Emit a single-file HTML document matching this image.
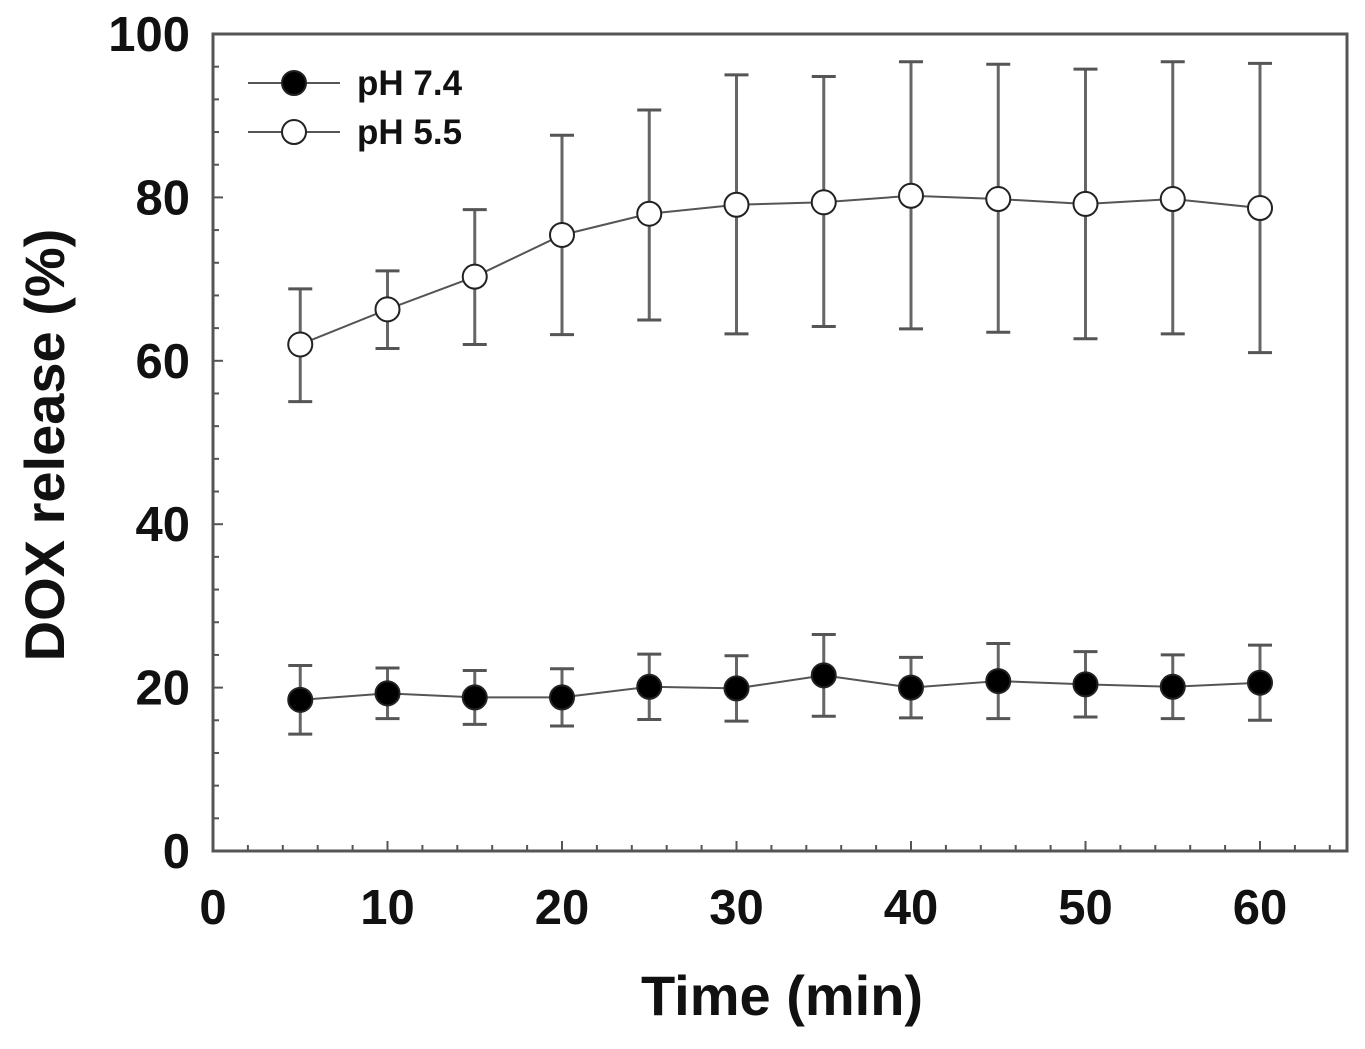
<!DOCTYPE html>
<html><head><meta charset="utf-8"><style>
html,body{margin:0;padding:0;background:#fff;}
svg{display:block;font-family:"Liberation Sans",Arial,sans-serif;}
</style></head><body>
<svg id="chart" width="1365" height="1049" viewBox="0 0 1365 1049"></svg>
<script>
const times=[5,10,15,20,25,30,35,40,45,50,55,60];
const ph74=[18.5,19.3,18.8,18.8,20.1,19.9,21.5,20.0,20.8,20.4,20.1,20.6];
const ph74Err=[4.2,3.1,3.3,3.5,4.0,4.0,5.0,3.7,4.6,4.0,3.9,4.6];
const ph55=[62.0,66.3,70.3,75.4,78.0,79.1,79.4,80.2,79.8,79.2,79.8,78.7];
const ph55Low=[55.0,61.5,62.0,63.2,65.0,63.3,64.2,63.9,63.5,62.7,63.3,61.0];
const ph55High=[68.8,71.0,78.5,87.6,90.7,95.0,94.8,96.6,96.3,95.7,96.6,96.4];
const xTicks=[0,10,20,30,40,50,60];
const yTicks=[0,20,40,60,80,100];
const NS='http://www.w3.org/2000/svg';
const svg=document.getElementById('chart');
const L=213,R=1347,T=34,B=851;
const x=v=>L+v*(1260-213)/60;
const y=v=>B-v*(B-T)/100;
function mk(tag,attrs,parent){const e=document.createElementNS(NS,tag);for(const k in attrs)e.setAttribute(k,attrs[k]);(parent||svg).appendChild(e);return e;}
const axis=mk('g',{});


mk('rect',{x:L,y:T,width:R-L,height:B-T,fill:'none',stroke:'#555','stroke-width':3},axis);
for(let v=0;v<=64;v+=2){const len=v%10===0?10:6;mk('line',{x1:x(v),x2:x(v),y1:B,y2:B-len,stroke:'#555','stroke-width':2},axis);}
for(let v=0;v<=100;v+=4){const len=v%20===0?10:6;mk('line',{x1:L,x2:L+len,y1:y(v),y2:y(v),stroke:'#555','stroke-width':2},axis);}
xTicks.forEach(v=>{const t=mk('text',{x:x(v),y:924,'text-anchor':'middle','font-size':49,'font-weight':'bold',fill:'#111'});t.textContent=v;

});
yTicks.forEach(v=>{const t=mk('text',{x:190,y:y(v)+17,'text-anchor':'end','font-size':49,'font-weight':'bold',fill:'#111'});t.textContent=v;

});
const xt=mk('text',{x:782,y:1015,'text-anchor':'middle','font-size':56,'font-weight':'bold',fill:'#111'});xt.textContent='Time (min)';


const yt=mk('text',{x:0,y:0,'text-anchor':'middle','font-size':56,'font-weight':'bold',fill:'#111',transform:'translate(64,445) rotate(-90)'});yt.textContent='DOX release (%)';


function errBar(g,t,lo,hi){mk('line',{x1:x(t),x2:x(t),y1:y(lo),y2:y(hi),stroke:'#666','stroke-width':3},g);
[lo,hi].forEach(v=>mk('line',{x1:x(t)-12,x2:x(t)+12,y1:y(v),y2:y(v),stroke:'#555','stroke-width':3},g));}
function series(name,vals,lo,hi,fill){
const g=mk('g',{});


times.forEach((t,i)=>errBar(g,t,lo[i],hi[i]));
mk('polyline',{points:times.map((t,i)=>x(t)+','+y(vals[i])).join(' '),fill:'none',stroke:'#555','stroke-width':2},g);
times.forEach((t,i)=>{const c=mk('circle',{cx:x(t),cy:y(vals[i]),r:12,fill:fill,stroke:'#222','stroke-width':2},g);

});}
series('series-ph-5-5',ph55,ph55Low,ph55High,'#fff');
series('series-ph-7-4',ph74,ph74.map((v,i)=>v-ph74Err[i]),ph74.map((v,i)=>v+ph74Err[i]),'#000');
const lg=mk('g',{});


[['pH 7.4','#000',83],['pH 5.5','#fff',132]].forEach(([lab,f,yy])=>{
mk('line',{x1:248,x2:340,y1:yy,y2:yy,stroke:'#555','stroke-width':2},lg);
mk('circle',{cx:294,cy:yy,r:12,fill:f,stroke:'#222','stroke-width':2},lg);
const t=mk('text',{x:357,y:yy+12,'font-size':35,'font-weight':'bold',fill:'#111'},lg);t.textContent=lab;

});
</script>
</body></html>
